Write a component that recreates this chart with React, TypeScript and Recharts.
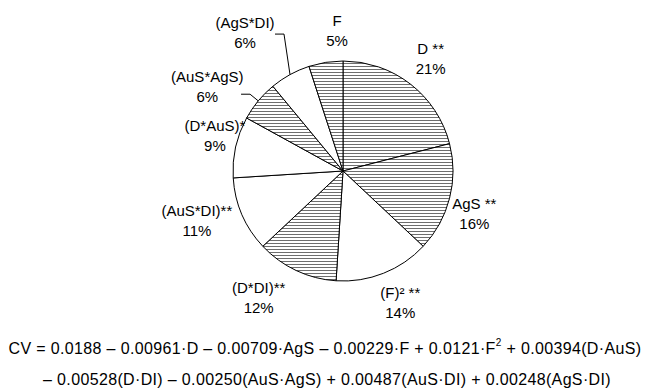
import React from 'react';
import { PieChart, Pie, Cell } from 'recharts';

// model terms, clockwise from 12 o'clock
const terms = ['D **', 'AgS **', '(F)\u00b2 **', '(D*DI)**', '(AuS*DI)**', '(D*AuS)*', '(AuS*AgS)', '(AgS*DI)', 'F'];
const shares = [21, 16, 14, 12, 11, 9, 6, 6, 5];
const hatched = [true, true, false, true, false, false, true, false, true];

const data = terms.map((name, i) => ({ name, value: shares[i] }));

// label placement: distance from centre and clockwise angle shift from slice middle
const labelRadius = [143, 138, 143, 152, 154, 133, 160, 170, 141];
const labelShift = [0, 3.5, -2, 8.5, 5, 3, -7.6, -6.4, 6.6];
const hasLeader = [false, false, false, false, false, false, true, true, false];

const FONT = '"Liberation Sans", Arial, sans-serif';
const RAD = Math.PI / 180;

function renderLabel(props: any) {
  const { cx, cy, midAngle, outerRadius, index } = props;
  const a = (midAngle - labelShift[index]) * RAD;
  const r = labelRadius[index];
  const x = cx + r * Math.cos(a);
  const y = cy - r * Math.sin(a);
  const pct = shares[index] + '%';
  let leader = null;
  if (hasLeader[index]) {
    const w = terms[index].length * 3.75;
    const ma = midAngle * RAD;
    const ex = cx + outerRadius * Math.cos(ma);
    const ey = cy - outerRadius * Math.sin(ma);
    const ly = y + (index === 6 ? 8 : 2);
    leader = (
      <polyline
        points={`${x + w},${ly} ${x + w + 9},${ly} ${ex},${ey}`}
        fill="none"
        stroke="#000"
        strokeWidth={1}
      />
    );
  }
  return (
    <g>
      {leader}
      <text x={x} y={y} textAnchor="middle" fontFamily={FONT} fontSize={15} fill="#000">
        <tspan x={x} dy={-4}>{terms[index]}</tspan>
        <tspan x={x} dy={20}>{pct}</tspan>
      </text>
    </g>
  );
}

export default function App() {
  return (
    <div style={{ position: 'absolute', left: 0, top: 0, width: 651, height: 392, background: '#fff' }}>
      <svg width={0} height={0} style={{ position: 'absolute' }}>
        <defs>
          <pattern id="hatch" width={4} height={3} patternUnits="userSpaceOnUse">
            <rect width={4} height={3} fill="#fff" />
            <rect y={0} width={4} height={1} fill="#6e6e6e" />
          </pattern>
        </defs>
      </svg>
      <PieChart width={651} height={320}>
        <Pie
          data={data}
          dataKey="value"
          nameKey="name"
          cx={338}
          cy={166}
          outerRadius={110}
          startAngle={90}
          endAngle={-270}
          stroke="#000"
          strokeWidth={1}
          label={renderLabel}
          labelLine={false}
          isAnimationActive={false}
        >
          {data.map((d, i) => (
            <Cell key={d.name} fill={hatched[i] ? 'url(#hatch)' : '#fff'} stroke="#000" />
          ))}
        </Pie>
      </PieChart>
      <div
        style={{
          position: 'absolute',
          left: 0,
          width: 654,
          top: 333,
          textAlign: 'center',
          fontFamily: FONT,
          fontSize: 16,
          letterSpacing: 0.35,
          lineHeight: '31px',
          color: '#000',
          whiteSpace: 'nowrap',
        }}
      >
        <div style={{ marginLeft: -4 }}>
          CV = 0.0188 – 0.00961·D – 0.00709·AgS – 0.00229·F + 0.0121·F
          <sup style={{ fontSize: 10, verticalAlign: 'top', lineHeight: '20px' }}>2</sup> + 0.00394(D·AuS)
        </div>
        <div>– 0.00528(D·DI) – 0.00250(AuS·AgS) + 0.00487(AuS·DI) + 0.00248(AgS·DI)</div>
      </div>
    </div>
  );
}
